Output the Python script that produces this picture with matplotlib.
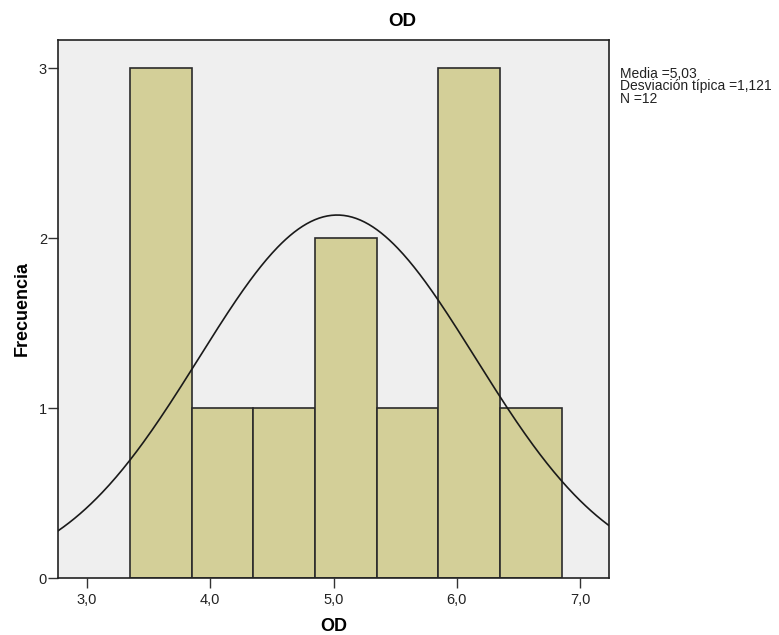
import numpy as np
import matplotlib
matplotlib.use('Agg')
import matplotlib.pyplot as plt

plt.rcParams['font.family'] = ['Liberation Sans', 'DejaVu Sans']

# histogram bins (OD values) and counts
bin_edges = [3.35, 3.85, 4.35, 4.85, 5.35, 5.85, 6.35, 6.85]
counts = [3, 1, 1, 2, 1, 3, 1]

# summary stats shown next to the chart
media = 5.03
desv = 1.121
n = 12

x_ticks = [3.0, 4.0, 5.0, 6.0, 7.0]
x_labels = ['3,0', '4,0', '5,0', '6,0', '7,0']
y_ticks = [0, 1, 2, 3]

fig = plt.figure(figsize=(7.79, 6.35), dpi=100)
ax = fig.add_axes([58/779, 57/635, 551/779, 538/635])
ax.set_facecolor('#efefef')

widths = np.diff(bin_edges)
ax.bar(bin_edges[:-1], counts, width=widths, align='edge',
       color='#d3cf98', edgecolor='#2b2b2b', linewidth=1.2, zorder=2)

# normal curve scaled to the histogram
xs = np.linspace(2.765, 7.235, 400)
bw = widths[0]
ys = n * bw / (desv * np.sqrt(2*np.pi)) * np.exp(-0.5*((xs - media)/desv)**2)
ax.plot(xs, ys, color='#1a1a1a', linewidth=1.2, zorder=3)

ax.set_xlim(2.765, 7.235)
ax.set_ylim(0, 3.165)
ax.set_xticks(x_ticks)
ax.set_xticklabels(x_labels)
ax.set_yticks(y_ticks)
ax.tick_params(axis='both', direction='out', length=7, width=1,
               color='#333333', labelsize=10.5, labelcolor='#222222')
ax.tick_params(axis='y', pad=1)
for s in ax.spines.values():
    s.set_color('#222222')
    s.set_linewidth(1.2)

ax.set_xlabel('OD', fontsize=13, fontweight='bold', labelpad=8)
ax.set_ylabel('Frecuencia', fontsize=13, fontweight='bold', labelpad=6)
fig.text(402/779, 1 - 22/635, 'OD', ha='center', va='center',
         fontsize=13.5, fontweight='bold')

fig.text(620/779, 1 - 67/635,
         'Media =5,03\nDesviación típica =1,121\nN =12',
         ha='left', va='top', fontsize=10, color='#222222', linespacing=0.85)

fig.savefig('out.png', dpi=100)
